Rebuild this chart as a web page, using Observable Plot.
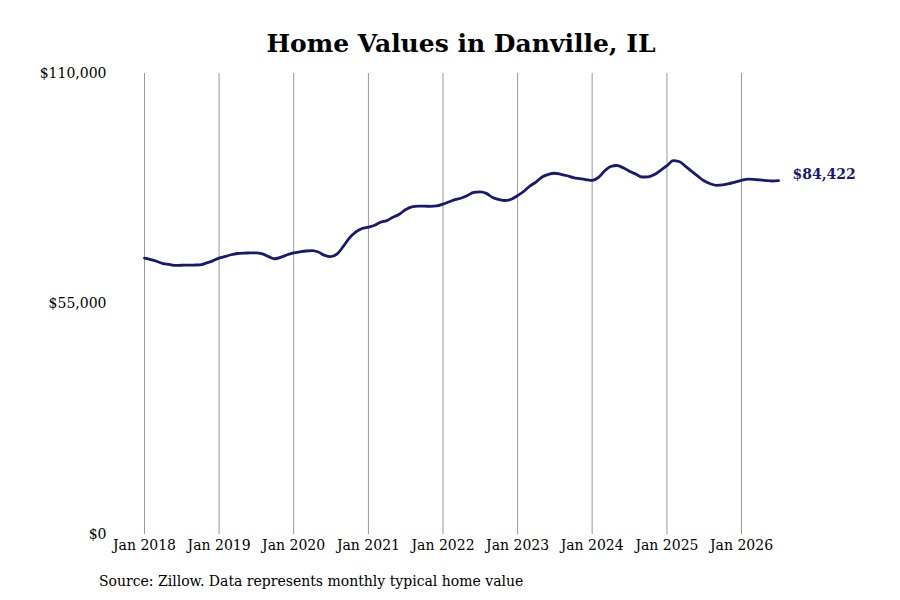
<!DOCTYPE html>
<html>
<head>
<meta charset="utf-8">
<script src="https://cdn.jsdelivr.net/npm/d3@7"></script>
<script src="https://cdn.jsdelivr.net/npm/@observablehq/plot@0.6"></script>
<style>
  body { margin: 0; background: #fff; width: 900px; height: 600px; overflow: hidden; font-family: "DejaVu Serif", serif; }
  #title { position: absolute; left: 144px; width: 634px; top: 29px; text-align: center; font-size: 25px; font-weight: bold; line-height: 30px; color: #000; }
  #chart { position: absolute; left: 0; top: 56px; }
  #caption { position: absolute; left: 99px; top: 573px; font-size: 14px; line-height: 17px; color: #000; }
</style>
</head>
<body>
<div id="title">Home Values in Danville, IL</div>
<div id="chart"></div>
<div id="caption">Source: Zillow. Data represents monthly typical home value</div>
<script>
// First and last month of the series (monthly, first of month)
const startMonth = "2018-01-01";
const endMonth = "2026-07-01";

// Monthly typical home value (USD), Jan 2018 – Jul 2026
const values = [
  65950, 65600, 65200, 64650, 64450, 64200, 64250, 64280, 64300, 64350, 64800, 65300, // 2018
  65950, 66350, 66750, 67050, 67150, 67180, 67210, 66950, 66300, 65800, 66200, 66750, // 2019
  67200, 67450, 67650, 67750, 67400, 66600, 66300, 66970, 68800, 70800, 72200, 73000, // 2020
  73350, 73800, 74500, 74900, 75700, 76400, 77500, 78200, 78350, 78350, 78300, 78400, // 2021
  78850, 79400, 79900, 80300, 80900, 81650, 81750, 81400, 80400, 79950, 79700, 80000, // 2022
  80850, 81900, 83100, 84100, 85300, 85950, 86200, 85950, 85600, 85150, 84900, 84700, // 2023
  84480, 85200, 86700, 87800, 88050, 87500, 86700, 86000, 85300, 85350, 85900, 86900, // 2024
  88000, 89200, 89000, 87900, 86700, 85500, 84400, 83700, 83300, 83400, 83700, 84100, // 2025
  84500, 84800, 84750, 84600, 84450, 84350, 84422                                      // 2026
];

// Axis ticks
const yTicks = [0, 55000, 110000];
const xTickYears = [2018, 2019, 2020, 2021, 2022, 2023, 2024, 2025, 2026];

const months = d3.utcMonth.range(new Date(startMonth), d3.utcMonth.offset(new Date(endMonth), 1));
const data = months.map((date, i) => ({date, value: values[i]}));
const last = data[data.length - 1];
const xTicks = xTickYears.map(y => new Date(Date.UTC(y, 0, 1)));

const fmtMoney = d3.format("$,.0f");
const fmtMonth = d3.utcFormat("%b %Y");

const chart = Plot.plot({
  width: 900,
  height: 510,
  marginLeft: 144,
  marginRight: 122,
  marginTop: 17,
  marginBottom: 32,
  style: { fontFamily: "DejaVu Serif, serif", fontSize: "14px", color: "#000", background: "transparent" },
  x: { type: "utc", domain: [new Date(startMonth), new Date(endMonth)], ticks: xTicks, tickFormat: fmtMonth, tickSize: 0, tickPadding: 6, label: null },
  y: { domain: [0, 110000], ticks: yTicks, tickFormat: fmtMoney, tickSize: 0, tickPadding: 38, label: null },
  marks: [
    Plot.gridX(xTicks, { stroke: "#999", strokeOpacity: 1, strokeWidth: 1 }),
    Plot.line(data, { x: "date", y: "value", stroke: "#191970", strokeWidth: 2.8, curve: "monotone-x" }),
    Plot.text([last], { x: "date", y: "value", text: d => fmtMoney(d.value), textAnchor: "start", dx: 14, dy: -6, fill: "#191970", fontWeight: "bold", fontSize: 14 })
  ]
});
document.getElementById("chart").appendChild(chart);
</script>
</body>
</html>
